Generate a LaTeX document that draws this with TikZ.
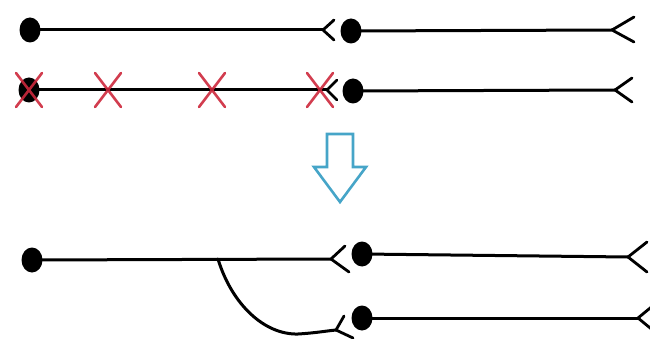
\documentclass[tikz,border=0pt]{standalone}
\usetikzlibrary{shapes.geometric}
\definecolor{crossred}{RGB}{205,40,60}
\definecolor{arrowblue}{RGB}{70,165,200}
\begin{document}
\begin{tikzpicture}[x=1pt,y=-1pt,
  dot/.style={ellipse,fill=black,inner sep=0pt,minimum width=21pt,minimum height=25pt},
  wire/.style={line width=3pt,black,line cap=round},
  arm/.style={line width=2.8pt,black,line cap=round},
  cross/.style={line width=2.6pt,draw=crossred,opacity=0.9,line cap=round},
  bigarrow/.style={line width=2.6pt,draw=arrowblue,fill=white,line join=miter}]
\useasboundingbox (0,0) rectangle (650,339);
% row 1
\node[dot] (a1) at (30,30) {};
\coordinate (f1) at (323,30);
\node[dot] (b1) at (351,31) {};
\coordinate (g1) at (612,30);
\draw[wire] (a1.center) -- (f1);
\draw[arm] (f1) -- ++(11,-10) (f1) -- ++(11,10);
\draw[wire] (b1.center) -- (g1);
\draw[arm] (g1) -- ++(22,-13) (g1) -- ++(22,12);
% row 2
\node[dot] (a2) at (29,90) {};
\coordinate (f2) at (327,90);
\node[dot] (b2) at (353,91) {};
\coordinate (g2) at (615,90);
\draw[wire] (a2.center) -- (f2);
\draw[arm] (f2) -- ++(10,-10) (f2) -- ++(10,10);
\draw[wire] (b2.center) -- (g2);
\draw[arm] (g2) -- ++(17,-12) (g2) -- ++(17,12);
\foreach \i/\cx in {1/29,2/108,3/212,4/320}{
  \coordinate (x\i) at (\cx,90);
  \draw[cross] (x\i) ++(-13,-17) -- ++(26,34) (x\i) ++(-13,17) -- ++(26,-34);
}
% arrow
\draw[bigarrow] (327,134) -- (353,134) -- (353,167) -- (366,167) -- (340,202) -- (314,167) -- (327,167) -- cycle;
% row 3
\node[dot] (a3) at (32,260) {};
\coordinate (f3) at (331,259);
\node[dot] (b3) at (362,254) {};
\coordinate (g3) at (628,257);
\coordinate (j) at (218,259);
\draw[wire] (a3.center) -- (f3);
\draw[arm] (f3) -- ++(14,-13) (f3) -- ++(18,13);
\draw[wire] (b3.center) -- (g3);
\draw[arm] (g3) -- ++(19,-15) (g3) -- ++(19,15);
% row 4
\node[dot] (b4) at (362,318) {};
\coordinate (f4) at (336,330);
\coordinate (g4) at (638,318);
\draw[wire] (b4.center) -- (g4);
\draw[arm] (g4) -- ++(17,-14) (g4) -- ++(17,14);
\draw[wire] (j) .. controls (232,305) and (265,335) .. (298,334) .. controls (315,333) and (326,331) .. (f4);
\draw[arm] (f4) -- ++(8,-14) (f4) -- ++(17,8);
\end{tikzpicture}
\end{document}
